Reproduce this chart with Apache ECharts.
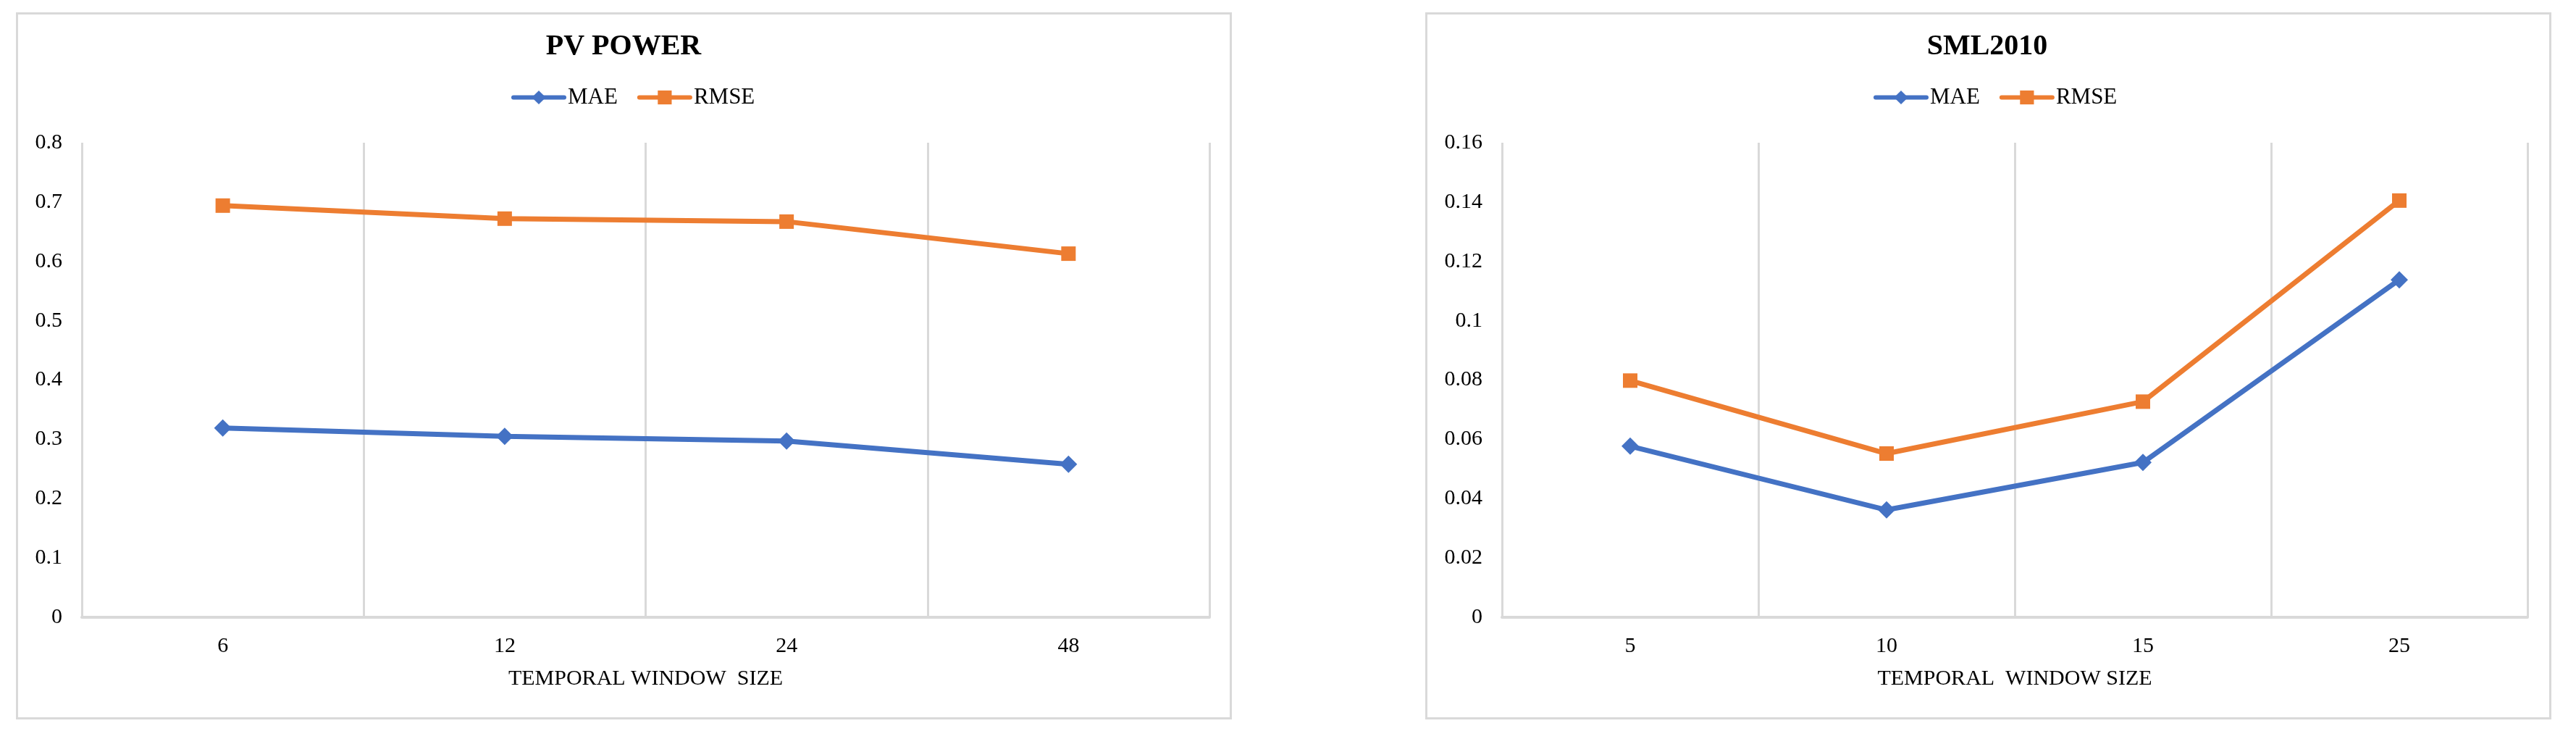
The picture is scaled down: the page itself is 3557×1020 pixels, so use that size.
<!DOCTYPE html>
<html>
<head>
<meta charset="utf-8">
<script src="https://cdn.jsdelivr.net/npm/echarts@6/dist/echarts.min.js"></script>
<style>
html,body{margin:0;padding:0;background:#fff;}
#c{width:3557px;height:1020px;}
</style>
</head>
<body>
<div id="c"></div>
<script>
// ---- Data ----
const pvCategories = ['6', '12', '24', '48'];
const pvMAE = [0.319, 0.305, 0.297, 0.258];
const pvRMSE = [0.694, 0.672, 0.667, 0.613];

const smlCategories = ['5', '10', '15', '25'];
const smlMAE = [0.0577, 0.0362, 0.0522, 0.1138];
const smlRMSE = [0.0798, 0.0552, 0.0727, 0.1405];

const titles = ['PV POWER', 'SML2010'];
const xAxisNames = ['TEMPORAL WINDOW  SIZE', 'TEMPORAL  WINDOW SIZE'];
const seriesNames = ['MAE', 'RMSE'];

// ---- Styling ----
const FONT = '"Liberation Serif", "Times New Roman", serif';
const BLUE = '#4472C4';
const ORANGE = '#ED7D31';
const GRIDC = '#D9D9D9';

const chart = echarts.init(document.getElementById('c'), null, {renderer: 'canvas'});

function xAxis(gridIndex, cats, name) {
  return {
    type: 'category', gridIndex, data: cats, boundaryGap: true,
    axisLine: {show: true, lineStyle: {color: GRIDC, width: 4}},
    axisTick: {show: false},
    splitLine: {show: true, showMinLine: true, showMaxLine: true, lineStyle: {color: GRIDC, width: 3}},
    axisLabel: {fontFamily: FONT, fontSize: 30, color: '#000', margin: 25},
    name, nameLocation: 'middle', nameGap: 70,
    nameTextStyle: {fontFamily: FONT, fontSize: 30, color: '#000'}
  };
}
function yAxis(gridIndex, max, interval) {
  return {
    type: 'value', gridIndex, min: 0, max, interval,
    axisLine: {show: false}, axisTick: {show: false}, splitLine: {show: false},
    axisLabel: {fontFamily: FONT, fontSize: 30, color: '#000', margin: 27}
  };
}
function series(name, idx, data, color, symbol, size) {
  return {
    name, type: 'line', xAxisIndex: idx, yAxisIndex: idx, data,
    symbol, symbolSize: size, showSymbol: true,
    lineStyle: {color, width: 7}, itemStyle: {color},
    emphasis: {disabled: true}, animation: false
  };
}
function legend(left) {
  return {
    data: seriesNames, left, top: 119, padding: 0, itemWidth: 70, itemHeight: 24, itemGap: 27,
    lineStyle: {width: 6, cap: 'round'},
    textStyle: {fontFamily: FONT, fontSize: 31, color: '#000'}
  };
}

const option = {
  backgroundColor: '#fff',
  animation: false,
  graphic: [
    {type: 'rect', shape: {x: 23.5, y: 18.5, width: 1676, height: 973}, style: {fill: 'none', stroke: GRIDC, lineWidth: 3}, silent: true, z: 0},
    {type: 'rect', shape: {x: 1969.5, y: 18.5, width: 1552, height: 973}, style: {fill: 'none', stroke: GRIDC, lineWidth: 3}, silent: true, z: 0}
  ],
  title: [
    {text: titles[0], left: 861, top: 45, textAlign: 'center', padding: 0,
     textStyle: {fontFamily: FONT, fontSize: 40, fontWeight: 'bold', color: '#000'}},
    {text: titles[1], left: 2744, top: 45, textAlign: 'center', padding: 0,
     textStyle: {fontFamily: FONT, fontSize: 40, fontWeight: 'bold', color: '#000'}}
  ],
  legend: [legend(706), legend(2587)],
  grid: [
    {left: 113, top: 197, width: 1557, height: 655, containLabel: false},
    {left: 2074, top: 197, width: 1416, height: 655, containLabel: false}
  ],
  xAxis: [xAxis(0, pvCategories, xAxisNames[0]), xAxis(1, smlCategories, xAxisNames[1])],
  yAxis: [yAxis(0, 0.8, 0.1), yAxis(1, 0.16, 0.02)],
  series: [
    series(seriesNames[0], 0, pvMAE, BLUE, 'diamond', 24),
    series(seriesNames[1], 0, pvRMSE, ORANGE, 'rect', 20),
    series(seriesNames[0], 1, smlMAE, BLUE, 'diamond', 24),
    series(seriesNames[1], 1, smlRMSE, ORANGE, 'rect', 20)
  ]
};
chart.setOption(option);
</script>
</body>
</html>
